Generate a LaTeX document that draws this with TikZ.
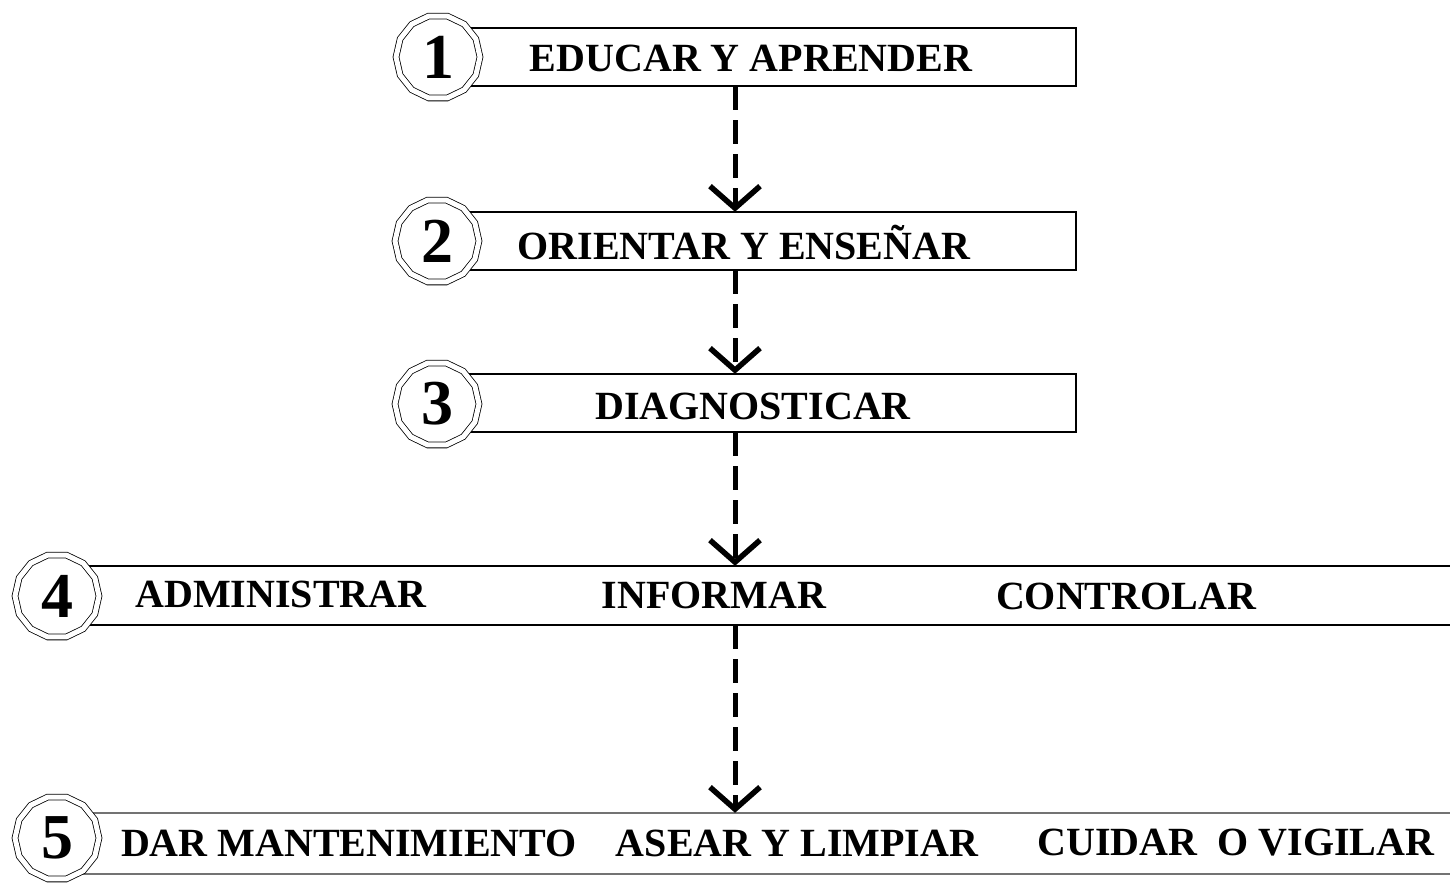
\documentclass[tikz,border=0pt]{standalone}
\usepackage{fontspec}
\setmainfont{Liberation Serif}
\usetikzlibrary{shapes.geometric,arrows.meta}
\begin{document}
\begin{tikzpicture}[x=1pt,y=-1pt,
  box/.style={draw=black,line width=1.4pt},
  graybox/.style={draw=black!55,line width=2pt},
  badge/.style={regular polygon,regular polygon sides=14,draw=black,double=white,
    double distance=5pt,line width=0.8pt,fill=white,minimum size=84pt,inner sep=0pt,
    font=\fontsize{64}{64}\selectfont\bfseries},
  lbl/.style={font=\fontsize{40}{44}\selectfont\bfseries,inner sep=0pt},
  flow/.style={line width=5pt,dash pattern=on 24pt off 10pt,
    -{Straight Barb[length=22pt,width=50pt,line width=5.5pt]}}]
\useasboundingbox (0,0) rectangle (1450,887);
% boxes
\draw[box] (438,28) rectangle (1076,86);
\draw[box] (438,212) rectangle (1076,270);
\draw[box] (438,374) rectangle (1076,432);
\draw[box] (57,566) -- (1452,566);
\draw[box] (57,625) -- (1452,625);
\draw[graybox] (57,813) -- (1452,813);
\draw[graybox] (57,874) -- (1452,874);
\node (b1) at (757,57) [minimum width=638pt,minimum height=58pt] {};
\node (b2) at (757,241) [minimum width=638pt,minimum height=58pt] {};
\node (b3) at (757,403) [minimum width=638pt,minimum height=58pt] {};
\node (b4) at (754,595.5) [minimum width=1395pt,minimum height=59pt] {};
\node (b5) at (754,843.5) [minimum width=1395pt,minimum height=61pt] {};
% labels
\node[lbl] (t1) at (751,58) {EDUCAR Y APRENDER};
\node[lbl] (t2) at (744,243) {ORIENTAR Y ENSEÑAR};
\node[lbl] (t3) at (753,406) {DIAGNOSTICAR};
\node[lbl] (t4a) at (281,594) {ADMINISTRAR};
\node[lbl] (t4b) at (714,595) {INFORMAR};
\node[lbl] (t4c) at (1126,596) {CONTROLAR};
\node[lbl] (t5a) at (349,843) {DAR MANTENIMIENTO};
\node[lbl] (t5b) at (797,843) {ASEAR Y LIMPIAR};
\node[lbl] (t5c) at (1236,843) {CUIDAR\ \ O VIGILAR};
% badges
\node[badge] (n1) at (438,57) {1};
\node[badge] (n2) at (437,241) {2};
\node[badge] (n3) at (437,404) {3};
\node[badge] (n4) at (57,596) {4};
\node[badge] (n5) at (57,838) {5};
% connectors
\coordinate (ax) at (735,0);
\draw[flow] (b1.south -| ax) -- (b2.north -| ax);
\draw[flow] (b2.south -| ax) -- (b3.north -| ax);
\draw[flow] (b3.south -| ax) -- (b4.north -| ax);
\draw[flow] (b4.south -| ax) -- (b5.north -| ax);
\end{tikzpicture}
\end{document}
